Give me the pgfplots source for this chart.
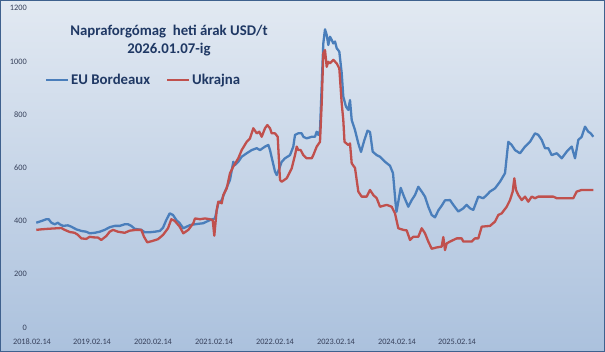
\documentclass[border=0pt]{standalone}
\usepackage{pgfplots}
\pgfplotsset{compat=1.18}
\usepackage{fontspec}
\setmainfont{Carlito}
\definecolor{eublue}{HTML}{4A7EBB}
\definecolor{uared}{HTML}{C0504D}
\definecolor{navy}{HTML}{1F3864}
\definecolor{ticktxt}{HTML}{36405A}
\definecolor{bgtop}{HTML}{E2E9F2}
\definecolor{bgbot}{HTML}{ABC1DD}
\definecolor{frame}{HTML}{3F618E}
\begin{document}
\begin{tikzpicture}[x=1pt,y=1pt]
\shade[top color=bgtop, bottom color=bgbot] (0pt,0pt) rectangle (605pt,352pt);
\begin{axis}[
  at={(28pt,24.5pt)}, anchor=south west,
  scale only axis, width=572pt, height=319.2pt,
  xmin=28, xmax=600, ymin=0, ymax=1200,
  axis line style={draw=none}, major tick length=0pt,
  ytick={0,200,...,1200},
  xtick={32,92,153,214,275,336,397,457},
  xticklabels={2018.02.14,2019.02.14,2020.02.14,2021.02.14,2022.02.14,2023.02.14,2024.02.14,2025.02.14},
  /pgf/number format/assume math mode=true,
  /pgf/number format/1000 sep={},
  tick label style={font=\fontsize{8.3}{10}\selectfont, text=ticktxt},
  yticklabel style={inner sep=1pt},
  xticklabel style={inner sep=1pt, yshift=-10pt},
  legend columns=2,
  legend style={draw=none, fill=none, at={(axis cs:45,930)}, anchor=west, inner sep=0pt,
    font=\bfseries\fontsize{14.8}{16}\selectfont, text=navy,
    /tikz/every even column/.append style={column sep=14pt}},
  legend image code/.code={\draw[#1, line width=2pt] (0pt,0pt) -- (22pt,0pt);},
]
\addplot[eublue, line width=2.3pt, line join=round] coordinates {
(36.3,394)(41.3,400)(46.3,407)(48.7,407)(51.3,394)(54.7,388)(58,394)(59.7,388)(63,382)(68,384)
(71.3,379)(76.3,369)(81.3,363)(86.3,360)(89.7,354)(94.7,356)(99.7,360)(104.7,367)(109.7,377)(114.7,382)
(119.7,382)(124.7,388)(128,388)(131.3,382)(134.7,371)(141.3,367)(144.7,358)(149.7,358)(154.7,360)(159.7,363)
(163,375)(166.3,404)(169.7,429)(173,423)(176.3,404)(179.7,392)(183.3,373)(190,385)(196.7,389)(203.3,392)
(210,404)(215,410)(218.3,467)(221.7,479)(225,511)(230,555)(233.3,623)(235,611)(238.3,623)(241.7,642)
(246.7,655)(251.7,667)(256.7,674)(260,667)(265,680)(268.3,686)(270,667)(272.7,623)(275,586)(276.7,573)
(279.3,598)(281.7,623)(285,636)(290,648)(293.3,680)(295,724)(298.3,730)(301.7,730)(303.3,717)(306.7,711)
(311.7,717)(315,717)(316.7,736)(318.3,724)(320,740)(323.3,1068)(325,1121)(326.7,1100)(328.3,1062)(330,1093)
(331.7,1081)(333.3,1068)(335,1075)(336.7,1050)(339.3,1037)(341.7,956)(343.3,868)(346,830)(348.3,818)(350,855)
(351.7,780)(355,742)(358.3,692)(361,660)(364,700)(367.5,740)(370,735)(372.7,661)(376.7,648)(380,642)
(385,623)(390,608)(393,580)(395.5,470)(396.5,435)(398.3,473)(400.7,525)(404,492)(408.3,454)(411.7,479)
(415,498)(418.3,529)(421.7,511)(425,492)(428.3,454)(431.7,423)(435,414)(438.3,440)(441.7,458)(445,478)
(450,479)(453.3,461)(458.3,436)(463.3,448)(466.7,461)(470,448)(473.3,442)(478.3,492)(483.3,486)(486.7,498)
(490,511)(495,523)(500,548)(505,580)(508.3,698)(511.7,686)(515,667)(520,655)(525,680)(530,698)
(535,730)(538.3,724)(541.7,705)(545,674)(548.3,674)(551.7,648)(556.7,655)(561.7,636)(566.7,661)(571.7,680)
(575,636)(578.3,705)(581.7,717)(585,755)(588.3,736)(590.7,730)(593.3,717)
};
\addlegendentry{EU Bordeaux}
\addplot[uared, line width=2.3pt, line join=round] coordinates {
(36.3,367)(41.3,369)(48,371)(61.3,374)(64.7,367)(69.7,359)(74.7,356)(78,348)(81.3,335)(86.3,333)
(89.7,341)(93,339)(98,338)(101.3,329)(106.3,344)(109.7,360)(113,367)(118,360)(124.7,356)(129.7,364)
(136.3,367)(141.3,367)(144,341)(147.3,320)(153,326)(158,332)(163,348)(168,373)(171.3,407)(174.7,401)
(179.7,379)(183.3,354)(188.3,367)(193.3,392)(195,410)(200,407)(205,410)(210,407)(212.7,404)(214.3,345)
(216.7,442)(218.3,473)(221.7,467)(223.3,498)(226.7,523)(230,580)(233.3,605)(238.3,636)(241.7,667)(246.7,698)
(250,711)(253.3,749)(256.7,730)(259.3,736)(261.7,717)(265,749)(267.3,761)(270,749)(271.7,730)(275,730)
(277.7,717)(280,555)(281.7,548)(286.7,561)(291.7,598)(295,648)(296.7,680)(298.3,667)(300.7,667)(303.3,648)
(306.7,636)(311.7,636)(313.3,648)(316.7,680)(320,698)(321.7,843)(323.3,1031)(325,1043)(326.7,980)(328.3,999)
(330,993)(333.3,1006)(336.7,993)(339.3,974)(341.7,843)(343.3,780)(344.5,698)(348.3,686)(350,692)(351.7,617)
(355,600)(358.3,511)(361.7,492)(366.7,492)(370,517)(373.3,498)(376.7,486)(380,454)(386.7,461)(391.7,454)
(395,429)(398.3,373)(403.3,367)(406.7,365)(410,329)(413.3,341)(418.3,341)(421.7,373)(425,354)(428.3,323)
(431.7,296)(436.7,301)(441.7,304)(443.3,340)(445,291)(446.7,316)(450,323)(456.7,335)(461.7,335)(463.3,323)
(471.7,323)(475,335)(478.3,335)(481.7,379)(490,382)(495,398)(498.3,423)(501.7,429)(506.7,454)(510,479)
(512.7,511)(514.3,561)(516,517)(518.3,498)(521.7,479)(525,492)(528.3,473)(531.7,492)(535,486)(538.3,492)
(553.3,492)(556.7,486)(573.3,486)(576.7,511)(581.7,517)(593.3,517)
};
\addlegendentry{Ukrajna}
\end{axis}
\node[font=\bfseries\fontsize{14.8}{18}\selectfont, text=navy, align=center, inner sep=0pt] at (169pt,311pt) {Napraforgómag\ \ heti árak USD/t\\2026.01.07-ig};
\draw[frame, line width=1pt] (0.5pt,0.5pt) rectangle (604.5pt,351.5pt);
\pgfresetboundingbox
\useasboundingbox (0pt,0pt) rectangle (605pt,352pt);
\end{tikzpicture}
\end{document}
